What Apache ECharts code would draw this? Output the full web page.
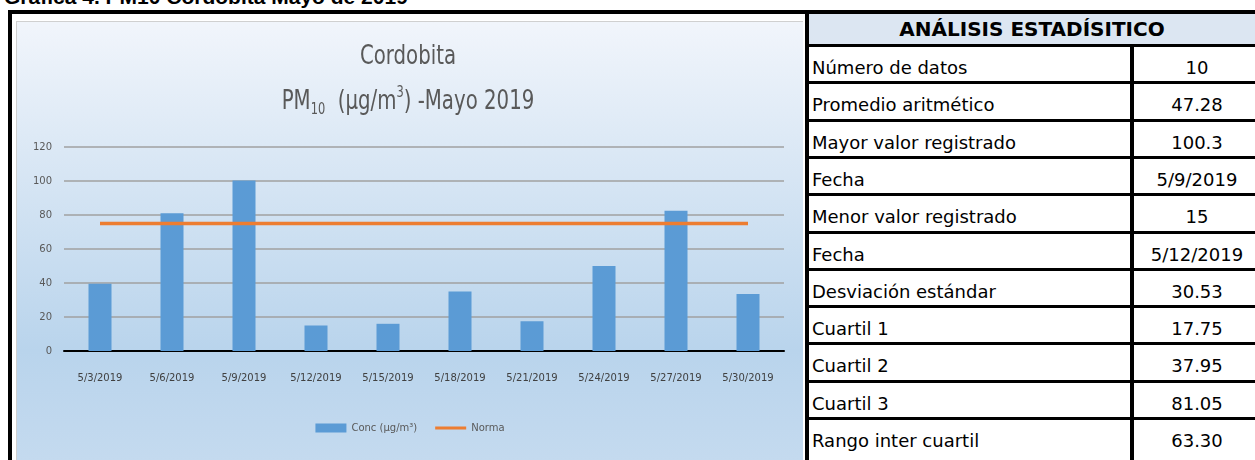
<!DOCTYPE html>
<html>
<head>
<meta charset="utf-8">
<title>Cordobita PM10 - Mayo 2019</title>
<script src="https://cdn.jsdelivr.net/npm/echarts@6/dist/echarts.min.js"></script>
<style>
  html, body { margin: 0; padding: 0; background: #fff; width: 1255px; height: 460px; overflow: hidden; position: relative; }
  .narrow { font-family: "DejaVu Sans", sans-serif; }
  #topText { position: absolute; left: 4px; top: -14px; font: bold 21px "Liberation Sans", Arial, sans-serif; line-height: 21px; color: #000; white-space: nowrap; }
  #frameTop { position: absolute; left: 8px; top: 10px; width: 1247px; height: 4px; background: #000; }
  #frameLeft { position: absolute; left: 8px; top: 10px; width: 4px; height: 450px; background: #000; }
  #panelBox { position: absolute; left: 16px; top: 21px; width: 787px; height: 440px; border: 1px solid #d0d0d0; box-sizing: border-box; }
  #main { position: absolute; left: 17px; top: 22px; width: 786px; height: 438px; }
  #tbl { position: absolute; left: 805px; top: 10px; width: 450px; height: 450px; }
  #tbl div { position: absolute; }
  .line { background: #000; }
  .cell { font-size: 18px; color: #000; white-space: nowrap; line-height: 20px; }
</style>
</head>
<body>
<div id="topText">Gráfica 4. PM10 Cordobita Mayo de 2019</div>
<div id="frameTop"></div>
<div id="frameLeft"></div>
<div id="panelBox"></div>
<div id="main"></div>
<div id="tbl" class="narrow"></div>
<script>
  // datos del grafico
  const fechas = ['5/3/2019', '5/6/2019', '5/9/2019', '5/12/2019', '5/15/2019', '5/18/2019', '5/21/2019', '5/24/2019', '5/27/2019', '5/30/2019'];
  const concValues = [39.5, 81, 100.3, 15, 16, 35, 17.5, 50, 82.5, 33.5];
  const normaValues = [75, 75, 75, 75, 75, 75, 75, 75, 75, 75];
  const yTicks = [0, 20, 40, 60, 80, 100, 120];

  // tabla de analisis estadistico
  const tablaTitulo = 'ANÁLISIS ESTADÍSITICO';
  const tablaEtiquetas = ['Número de datos', 'Promedio aritmético', 'Mayor valor registrado', 'Fecha', 'Menor valor registrado', 'Fecha', 'Desviación estándar', 'Cuartil 1', 'Cuartil 2', 'Cuartil 3', 'Rango inter cuartil'];
  const tablaValores = ['10', '47.28', '100.3', '5/9/2019', '15', '5/12/2019', '30.53', '17.75', '37.95', '81.05', '63.30'];

  const FONT = '"DejaVu Sans", sans-serif';
  const GRIS = '#595959';

  /**
   * arma la tabla con divs posicionados
   */
  function buildTable() {
    const box = document.getElementById('tbl');
    let html = '';
    const rowH = 37.3;
    const colX = 325;   // divisor de columnas (relativo)
    // encabezado
    html += `<div style="left:0;top:4px;width:450px;height:30px;background:#dce6f2"></div>`;
    html += `<div class="cell" style="left:0;top:8px;width:454px;text-align:center;font-weight:bold;font-size:20px;line-height:22px">${tablaTitulo}</div>`;
    html += `<div class="line" style="left:0;top:0;width:4px;height:450px"></div>`;
    html += `<div class="line" style="left:0;top:34px;width:450px;height:3px"></div>`;
    tablaEtiquetas.forEach((lab, i) => {
      const top = 37 + i * rowH;
      html += `<div class="cell" style="left:7px;top:${top + 11}px">${lab}</div>`;
      html += `<div class="cell" style="left:${colX + 4}px;top:${top + 11}px;width:126px;text-align:center">${tablaValores[i]}</div>`;
      // la ultima fila queda cortada, sin borde inferior
      if (i < tablaEtiquetas.length - 1) {
        html += `<div class="line" style="left:0;top:${top + rowH - 3}px;width:450px;height:3px"></div>`;
      }
    });
    html += `<div class="line" style="left:${colX}px;top:34px;width:4px;height:420px"></div>`;
    box.innerHTML = html;
  }

  buildTable();

  const chart = echarts.init(document.getElementById('main'));

  const option = {
    backgroundColor: new echarts.graphic.LinearGradient(0, 0, 0, 1, [
      {offset: 0, color: '#f1f5fb'},
      {offset: 0.75, color: '#b9d4ec'},
      {offset: 1, color: '#c4daef'}
    ]),
    // titulo en dos lineas, algo comprimido horizontalmente
    graphic: [
      {
        type: 'text',
        x: 391,
        y: 35,
        scaleX: 0.76,
        style: {
          text: 'Cordobita',
          align: 'center',
          verticalAlign: 'middle',
          fontFamily: FONT,
          fontSize: 26,
          fill: GRIS
        }
      },
      {
        type: 'text',
        x: 391,
        y: 80,
        scaleX: 0.76,
        style: {
          text: '{b|PM}{s|10}{b|  (µg/m}{p|3}{b|) -Mayo 2019}',
          align: 'center',
          verticalAlign: 'middle',
          fill: GRIS,
          rich: {
            b: {fontFamily: FONT, fontSize: 26, lineHeight: 32, fill: GRIS},
            s: {fontFamily: FONT, fontSize: 15, lineHeight: 15, verticalAlign: 'bottom', fill: GRIS},
            p: {fontFamily: FONT, fontSize: 15, lineHeight: 15, verticalAlign: 'top', fill: GRIS}
          }
        }
      }
    ],
    legend: {
      top: 396,
      left: 'center',
      itemWidth: 31,
      itemHeight: 9,
      itemGap: 18,
      textStyle: {fontFamily: FONT, fontSize: 10, color: GRIS},
      data: [
        {name: 'Conc (µg/m³)', icon: 'rect'},
        {name: 'Norma', icon: 'path://M0,0 L0,0.01 M0,3 L32,3 L32,6 L0,6 Z M32,9 L32,9.01'}
      ]
    },
    grid: {left: 47, right: 19, top: 125, bottom: 109, containLabel: false},
    xAxis: {
      type: 'category',
      data: fechas,
      axisLine: {lineStyle: {color: '#000', width: 2}},
      axisTick: {show: false},
      axisLabel: {fontFamily: FONT, fontSize: 10, color: '#404040', margin: 22, interval: 0}
    },
    yAxis: {
      type: 'value',
      min: yTicks[0],
      max: yTicks[yTicks.length - 1],
      interval: 20,
      axisLine: {show: false},
      axisTick: {show: false},
      axisLabel: {fontFamily: FONT, fontSize: 10, color: GRIS, margin: 12},
      splitLine: {lineStyle: {color: '#a0a0a0', width: 1.5}}
    },
    series: [
      {
        name: 'Conc (µg/m³)',
        type: 'bar',
        data: concValues,
        barWidth: 23,
        itemStyle: {color: '#5b9bd5'}
      },
      {
        name: 'Norma',
        type: 'line',
        data: normaValues,
        symbol: 'none',
        lineStyle: {color: '#ed7d31', width: 3.5},
        itemStyle: {color: '#ed7d31'}
      }
    ]
  };

  chart.setOption(option);
</script>
</body>
</html>
